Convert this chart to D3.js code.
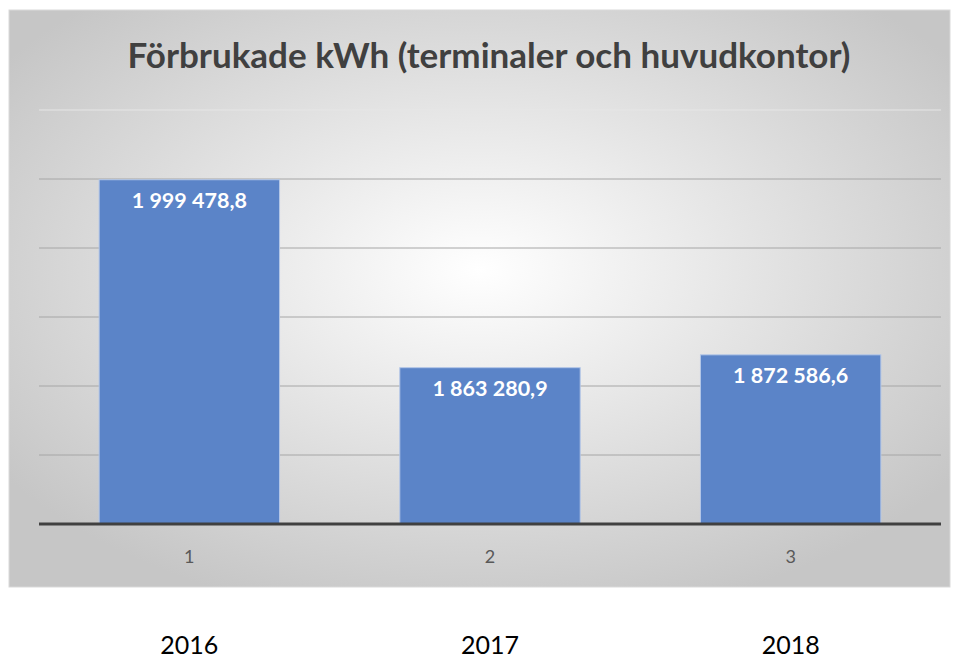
<html>
<head>
<style>
  body { margin: 0; background: #fff; }
  text { font-family: Lato, "Open Sans", sans-serif; }
</style>
</head>
<body>
<script src="https://cdn.jsdelivr.net/npm/d3@7"></script>
<script>
var categories = ["1", "2", "3"];
var years = ["2016", "2017", "2018"];
var values = [1999478.8, 1863280.9, 1872586.6];
var valueLabels = ["1 999 478,8", "1 863 280,9", "1 872 586,6"];
var gridTicks = [1750000, 1800000, 1850000, 1900000, 1950000, 2000000, 2050000];

var W = 960, H = 660;
var svg = d3.select("body").append("svg").attr("width", W).attr("height", H);

var defs = svg.append("defs");
var grad = defs.append("radialGradient").attr("id", "bg")
  .attr("cx", "50%").attr("cy", "45%").attr("r", "62%");
grad.append("stop").attr("offset", "0%").attr("stop-color", "#ffffff");
grad.append("stop").attr("offset", "100%").attr("stop-color", "#c6c6c6");

// chart box
svg.append("rect").attr("x", 9).attr("y", 10).attr("width", 941).attr("height", 577)
  .attr("fill", "url(#bg)").attr("stroke", "#d9d9d9");

svg.append("text").attr("x", 489).attr("y", 68).attr("text-anchor", "middle")
  .attr("font-size", 35).attr("font-weight", "bold").attr("fill", "#404040")
  .text("Förbrukade kWh (terminaler och huvudkontor)");

var x = d3.scaleBand().domain(categories).range([39, 941]).paddingInner(0.4).paddingOuter(0.2);
var y = d3.scaleLinear().domain([1750000, 2050000]).range([524, 110]);

svg.append("g").selectAll("line").data(gridTicks.slice(1)).enter().append("line")
  .attr("x1", 39).attr("x2", 941)
  .attr("y1", function(d) { return y(d); }).attr("y2", function(d) { return y(d); })
  .attr("stroke", function(d, i) { return i == gridTicks.length - 2 ? "#e6e6e6" : "#a6a6a6"; })
  .attr("stroke-width", 1);

svg.append("g").selectAll("rect").data(values).enter().append("rect")
  .attr("x", function(d, i) { return x(categories[i]); })
  .attr("y", function(d) { return y(d); })
  .attr("width", x.bandwidth())
  .attr("height", function(d) { return y(1750000) - y(d); })
  .attr("fill", "#5b84c8").attr("stroke", "#b4c7e7").attr("stroke-width", 1);

svg.append("g").selectAll("text").data(values).enter().append("text")
  .attr("x", function(d, i) { return x(categories[i]) + x.bandwidth() / 2; })
  .attr("y", function(d) { return y(d) + 28; })
  .attr("text-anchor", "middle").attr("font-size", 21.5).attr("font-weight", "bold")
  .attr("fill", "#ffffff")
  .text(function(d, i) { return valueLabels[i]; });

svg.append("line").attr("x1", 39).attr("x2", 941).attr("y1", y(1750000)).attr("y2", y(1750000))
  .attr("stroke", "#404040").attr("stroke-width", 3);

var xAxis = svg.append("g").attr("transform", "translate(0," + y(1750000) + ")")
  .call(d3.axisBottom(x).tickSize(0).tickPadding(26));
xAxis.select(".domain").remove();
xAxis.selectAll("text").attr("font-size", 18).attr("fill", "#595959")
  .style("font-family", "Lato, 'Open Sans', sans-serif");

svg.append("g").selectAll("text").data(years).enter().append("text")
  .attr("x", function(d, i) { return x(categories[i]) + x.bandwidth() / 2; })
  .attr("y", 654).attr("text-anchor", "middle").attr("font-size", 25).attr("fill", "#000")
  .text(function(d) { return d; });
</script>
</body>
</html>
